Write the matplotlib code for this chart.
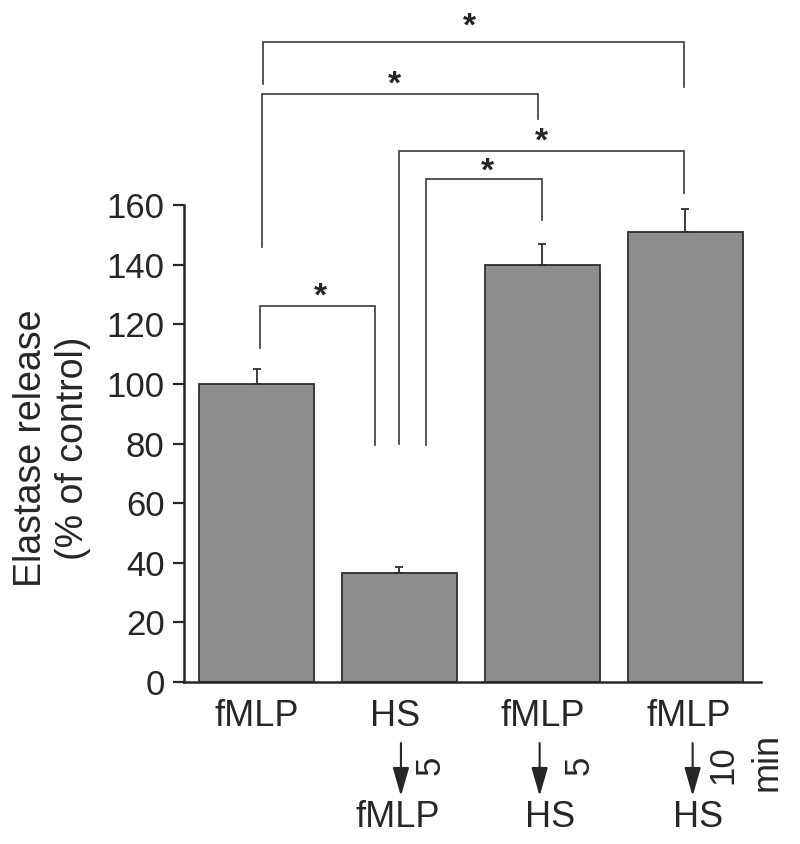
import matplotlib
matplotlib.use("Agg")
import matplotlib.pyplot as plt
import matplotlib.transforms as mtransforms

plt.rcParams['font.family'] = ['Liberation Sans', 'DejaVu Sans']

# ---- data ----
categories = ["fMLP", "HS", "fMLP", "fMLP"]
values = [100, 36.6, 140, 151]
errors = [5, 2, 7, 7.7]
yticks = [0, 20, 40, 60, 80, 100, 120, 140, 160]
second_labels = ["", "fMLP", "HS", "HS"]
delay_labels = ["", "5", "5", "10"]

# significance brackets: (x_left, x_right, y_bar, y_left_end, y_right_end, star_x, star_y)
brackets = [
    (0.045, 2.989, 214.8, 200.7, 199.7, 1.486, 221.5),
    (0.038, 1.966, 197.3, 146.0, 189.0, 0.962, 202.0),
    (0.995, 2.989, 178.0, 80.0, 164.0, 1.990, 182.9),
    (1.187, 1.997, 168.8, 79.5, 155.0, 1.612, 172.8),
    (0.024, 0.828, 126.0, 112.0, 79.5, 0.444, 130.9),
]

ink = '#262626'
bar_color = '#8e8e8e'

fig = plt.figure(figsize=(8, 8.44), dpi=100)
ax = fig.add_axes([0.23, 0.1919, 0.72125, 0.5652])

x = list(range(len(categories)))
ax.bar(x, values, width=0.8, color=bar_color, edgecolor='#2e2e2e', linewidth=1.3, zorder=2)
ax.errorbar(x, values, yerr=[[0]*len(errors), errors], fmt='none', ecolor='#2e2e2e',
            elinewidth=1.3, capsize=2.6, capthick=1.3, zorder=3)

ax.set_xlim(-0.507, 3.528)
ax.set_ylim(0, 160)
ax.set_yticks(yticks)
ax.tick_params(axis='y', direction='out', length=8, width=1.6, labelsize=25, pad=6, colors=ink)
ax.tick_params(axis='x', length=0, labelbottom=False)
for s in ['top', 'right']:
    ax.spines[s].set_visible(False)
for s in ['left', 'bottom']:
    ax.spines[s].set_linewidth(1.8)
    ax.spines[s].set_color(ink)

# star glyph sits high in its box: nudge it down a few pixels
star_trans = ax.transData + mtransforms.ScaledTranslation(0, -5 / 100.0, fig.dpi_scale_trans)

# brackets
for xl, xr, yb, yle, yre, sx, sy in brackets:
    ax.plot([xl, xl, xr, xr], [yle, yb, yb, yre], color='#3a3a3a', lw=1.2,
            clip_on=False, solid_joinstyle='miter', zorder=4)
    ax.text(sx, sy, '*', ha='center', va='center', fontsize=24, fontweight='bold',
            color=ink, clip_on=False, transform=star_trans)

trans = mtransforms.blended_transform_factory(ax.transData, ax.transAxes)

def fy(px):
    return (682 - px) / 477.0

# main category labels
main_offsets = [0.0, -0.03, 0.0, 0.02]
for i, lab in enumerate(categories):
    ax.text(i + main_offsets[i], fy(716), lab, transform=trans, ha='center', va='center',
            fontsize=26, color=ink)

# arrows, second-line labels, delay labels
arrow_offsets = [0, 0.01, -0.02, 0.05]
second_offsets = [0, -0.013, 0.056, 0.09]
delay_offsets = [0, 0.211, 0.259, 0.258]
for i in range(1, len(categories)):
    xa = i + arrow_offsets[i]
    ax.annotate('', xy=(xa, fy(796)), xytext=(xa, fy(743)), xycoords=trans, textcoords=trans,
                arrowprops=dict(arrowstyle='-|>,head_length=1.25,head_width=0.36',
                                color=ink, lw=1.5, shrinkA=0, shrinkB=0,
                                mutation_scale=14), annotation_clip=False)
    ax.text(i + second_offsets[i], fy(817.5), second_labels[i], transform=trans,
            ha='center', va='center', fontsize=26, color=ink)
    ax.text(i + delay_offsets[i], fy(765), delay_labels[i], transform=trans,
            ha='center', va='center', fontsize=25, rotation=90, color=ink)

ax.text(3.572, fy(762), 'min', transform=trans, ha='center', va='center',
        fontsize=26, rotation=90, color=ink)

fig.text(52 / 800, 1 - 448 / 844, 'Elastase release\n(% of control)', ha='center', va='center',
         rotation=90, fontsize=27, color=ink, multialignment='center', linespacing=1.2)

fig.savefig('out.png', dpi=100, facecolor='white')
